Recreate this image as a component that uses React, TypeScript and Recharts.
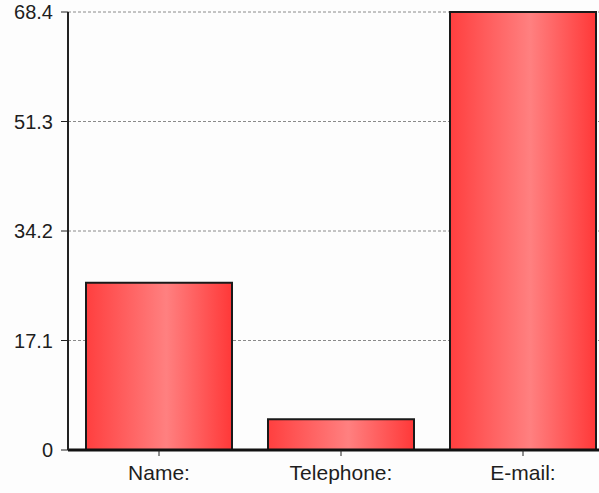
import React from "react";
import { BarChart, Bar, XAxis, YAxis, CartesianGrid } from "recharts";

// Response counts per contact field
const categories = ["Name:", "Telephone:", "E-mail:"];
const values = [26.1, 4.8, 68.4];
const yTicks = [0, 17.1, 34.2, 51.3, 68.4];

const data = categories.map((field, i) => ({ field, value: values[i] }));

const fontFamily = "'Liberation Sans', Arial, sans-serif";
const xLabelFont = { fontFamily, fontSize: 21, fill: "#1e1e1e" };
const yLabelFont = { fontFamily, fontSize: 20, fill: "#1e1e1e" };

export default function App() {
  return (
    <div
      style={{
        position: "fixed",
        left: 0,
        top: 0,
        width: 599,
        height: 493,
        overflow: "hidden",
        background: "#fdfdfd",
      }}
    >
      <BarChart
        width={614}
        height={493}
        data={data}
        margin={{ top: 12, right: 0, left: 0, bottom: 0 }}
      >
        <defs>
          <linearGradient id="barFill" x1="0" y1="0" x2="1" y2="0">
            <stop offset="0%" stopColor="#ff3f3f" />
            <stop offset="55%" stopColor="#ff8080" />
            <stop offset="100%" stopColor="#ff3838" />
          </linearGradient>
        </defs>
        <CartesianGrid
          vertical={false}
          stroke="#8a8a8a"
          strokeDasharray="3 2"
        />
        <XAxis
          dataKey="field"
          height={43}
          tickSize={6}
          tickMargin={9}
          tick={xLabelFont}
          axisLine={{ stroke: "#111", strokeWidth: 3 }}
          tickLine={{ stroke: "#222" }}
        />
        <YAxis
          width={68}
          domain={[0, 68.4]}
          ticks={yTicks}
          interval={0}
          tickSize={7}
          tickMargin={8}
          tick={yLabelFont}
          axisLine={{ stroke: "#222", strokeWidth: 2 }}
          tickLine={{ stroke: "#222" }}
        />
        <Bar
          dataKey="value"
          barSize={146}
          fill="url(#barFill)"
          stroke="#1a1a1a"
          strokeWidth={2}
          isAnimationActive={false}
        />
      </BarChart>
    </div>
  );
}
